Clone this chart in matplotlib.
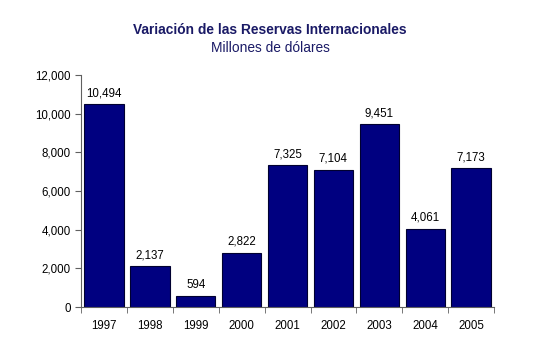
import numpy as np
import matplotlib
matplotlib.use('Agg')
from matplotlib import pyplot as plt

years = ['1997', '1998', '1999', '2000', '2001', '2002', '2003', '2004', '2005']
values = [10494, 2137, 594, 2822, 7325, 7104, 9451, 4061, 7173]

plt.rcParams['font.family'] = ['Liberation Sans', 'DejaVu Sans']

fig = plt.figure(figsize=(5.4, 3.44), dpi=100)
ax = fig.add_axes([0.15, 0.107, 0.765, 0.675])

x = np.arange(len(years))
ax.bar(x, values, width=0.86, color='#000080', edgecolor='#000030', linewidth=0.8)

for xi, v in zip(x, values):
    ax.text(xi, v + 250, f'{v:,}', ha='center', va='bottom', fontsize=8.3)

ax.set_xlim(-0.5, len(years) - 0.5)
ax.set_ylim(0, 12000)
ax.set_yticks(np.arange(0, 12001, 2000))
ax.set_yticklabels([f'{t:,}' for t in range(0, 12001, 2000)], fontsize=8.3)

# category labels centered, ticks between categories
ax.set_xticks(x)
ax.set_xticklabels(years, fontsize=8.3)
ax.tick_params(axis='x', which='major', length=0, pad=9)
ax.set_xticks(np.arange(-0.5, len(years)), minor=True)
ax.tick_params(axis='x', which='minor', length=4, direction='out', color='#606060')
ax.tick_params(axis='y', length=4, direction='out', color='#606060')

for s in ['top', 'right']:
    ax.spines[s].set_visible(False)
ax.spines['left'].set_color('#606060')
ax.spines['bottom'].set_color('#606060')

fig.text(0.5, 0.9, 'Variación de las Reservas Internacionales', ha='center',
         fontsize=9.9, fontweight='bold', color='#1a1a66')
fig.text(0.5, 0.85, 'Millones de dólares', ha='center', fontsize=9.9, color='#1a1a66')

fig.savefig('out.png', dpi=100)
